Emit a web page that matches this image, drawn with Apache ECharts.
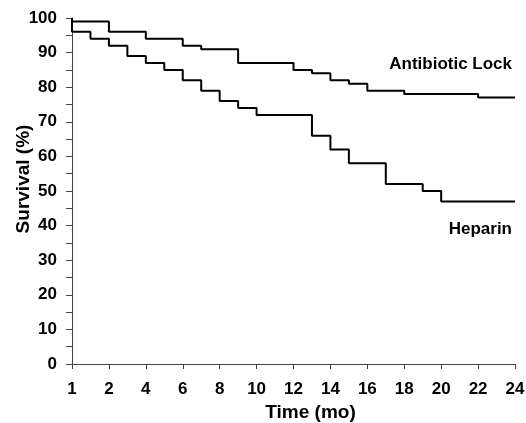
<!DOCTYPE html>
<html>
<head>
<meta charset="utf-8">
<script src="https://cdn.jsdelivr.net/npm/echarts@6/dist/echarts.min.js"></script>
<style>
  html, body { margin: 0; padding: 0; background: #fff; }
  #main { width: 526px; height: 423px; }
</style>
</head>
<body>
<div id="main"></div>
<script>
// x axis ticks are evenly spaced even though the months are not
var tickLabels = [1, 2, 4, 6, 8, 10, 12, 14, 16, 18, 20, 22, 24];

// Kaplan-Meier steps: month where the level starts, survival (%)
var lockMonths = [1, 1, 2, 4, 6, 7, 9, 12, 13, 14, 15, 16, 18, 22, 24];
var lockSurvival = [100, 99, 96, 94, 92, 91, 87, 85, 84, 82, 81, 79, 78, 77, 77];

var heparinMonths = [1, 1, 1.5, 2, 3, 4, 5, 6, 7, 8, 9, 10, 13, 14, 15, 17, 19, 20, 24];
var heparinSurvival = [100, 96, 94, 92, 89, 87, 85, 82, 79, 76, 74, 72, 66, 62, 58, 52, 50, 47, 47];

var FONT = "Arial, 'Liberation Sans', sans-serif";

// month -> position on the tick scale (0..12)
function tickPos(m) {
  for (var i = 0; i < tickLabels.length - 1; i++) {
    var a = tickLabels[i], b = tickLabels[i + 1];
    if (m <= b) return i + (m - a) / (b - a);
  }
  return tickLabels.length - 1;
}

function toPoints(months, values) {
  return months.map(function (m, i) {
    return [tickPos(m), values[i]];
  });
}

var chart = echarts.init(document.getElementById("main"), null, { renderer: "canvas" });

var lineStyle = { color: "#000", width: 2 };

var opt = {
  animation: false,
  backgroundColor: "#fff",
  grid: {
    left: 72, right: 11, top: 18, bottom: 59,
    containLabel: false, outerBoundsMode: "none"
  },
  xAxis: {
    type: "value",
    min: 0,
    max: tickLabels.length - 1,
    interval: 1,
    offset: 4,
    name: "Time (mo)",
    nameLocation: "middle",
    nameGap: 35,
    nameMoveOverlap: false,
    nameTextStyle: {
      fontFamily: FONT, fontWeight: "bold", fontSize: 19, color: "#000",
      padding: [0, 0, 0, 34]
    },
    axisLine: { show: true, lineStyle: { color: "#444", width: 1 } },
    axisTick: { show: true, inside: false, length: 5, lineStyle: { color: "#444" } },
    axisLabel: {
      fontFamily: FONT, fontWeight: "bold", fontSize: 17, color: "#000", margin: 13,
      formatter: function (v) { return tickLabels[Math.round(v)]; }
    },
    splitLine: { show: false }
  },
  yAxis: {
    type: "value",
    min: 0,
    max: 100,
    interval: 5,
    offset: 2,
    name: "Survival (%)",
    nameLocation: "middle",
    nameGap: 37,
    nameMoveOverlap: false,
    nameTextStyle: {
      fontFamily: FONT, fontWeight: "bold", fontSize: 19, color: "#000",
      padding: [0, 0, 0, 24]
    },
    axisLine: { show: true, lineStyle: { color: "#444", width: 1 } },
    axisTick: { show: true, inside: false, length: 6, lineStyle: { color: "#444" } },
    axisLabel: {
      fontFamily: FONT, fontWeight: "bold", fontSize: 17, color: "#000", margin: 13,
      formatter: function (v) { return v % 10 === 0 ? String(v) : ""; }
    },
    splitLine: { show: false }
  },
  series: [
    {
      name: "Antibiotic Lock",
      type: "line",
      step: "end",
      symbol: "none",
      lineStyle: lineStyle,
      data: toPoints(lockMonths, lockSurvival)
    },
    {
      name: "Heparin",
      type: "line",
      step: "end",
      symbol: "none",
      lineStyle: lineStyle,
      data: toPoints(heparinMonths, heparinSurvival)
    }
  ],
  graphic: [
    {
      type: "text", right: 14, top: 56,
      style: { text: "Antibiotic Lock", font: "bold 17px " + FONT, fill: "#000" }
    },
    {
      type: "text", right: 14, top: 221,
      style: { text: "Heparin", font: "bold 17px " + FONT, fill: "#000" }
    }
  ]
};

chart.setOption(opt);
</script>
</body>
</html>
